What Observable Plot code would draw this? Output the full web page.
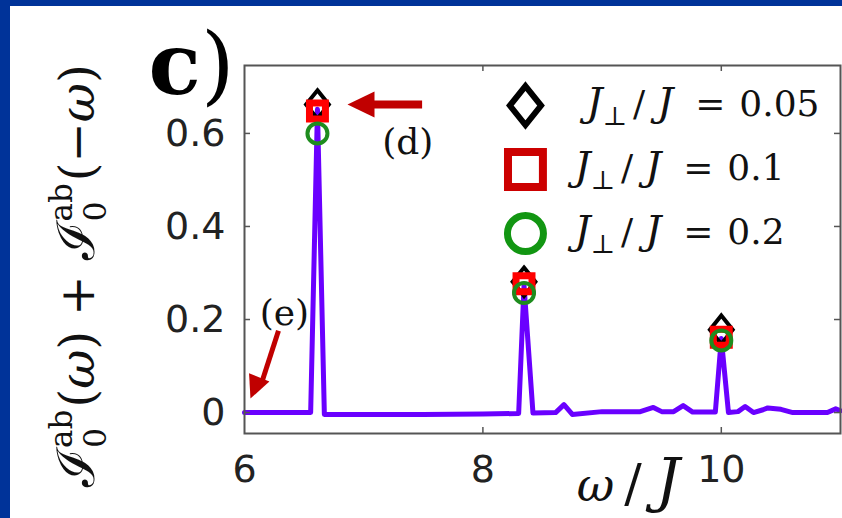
<!DOCTYPE html>
<html><head><meta charset="utf-8">
<script src="https://cdn.jsdelivr.net/npm/d3@7"></script>
<script src="https://cdn.jsdelivr.net/npm/@observablehq/plot@0.6"></script>
<style>
html,body{margin:0;padding:0;background:#fff;overflow:hidden;width:842px;height:518px;}
#bl{position:absolute;left:0;top:0;width:10px;height:518px;background:#003399;}
#bt{position:absolute;left:0;top:0;width:842px;height:6px;background:#003399;}
#wrap{position:absolute;left:10px;top:6px;width:832px;height:512px;overflow:hidden;background:#fff;}
#wrap svg{display:block;}
</style></head><body><div id="wrap"></div><div id="bl"></div><div id="bt"></div>
<script>
// ---- data ----
const xTicks = [6, 8, 10];
const xTickLabels = ["6", "8", "10"];
const yTicks = [0, 0.2, 0.4, 0.6];
const yTickLabels = ["0", "0.2", "0.4", "0.6"];
const seriesNames = ["J⊥/J = 0.05", "J⊥/J = 0.1", "J⊥/J = 0.2"];
const jValues = ["0.05", "0.1", "0.2"];
const peakOmega = [6.612, 8.345, 10.0];
const peakJ005 = [0.662, 0.281, 0.178];
const peakJ01 = [0.648, 0.277, 0.162];
const peakJ02 = [0.600, 0.257, 0.155];
const spectrumOmega = [6.0, 6.3, 6.555, 6.612, 6.67, 7.0, 7.5, 8.0, 8.30, 8.345, 8.42, 8.61, 8.68, 8.75, 9.0, 9.32, 9.43, 9.5, 9.6, 9.68, 9.76, 9.95, 10.0, 10.06, 10.14, 10.20, 10.27, 10.35, 10.39, 10.5, 10.6, 10.89, 10.96, 11.0];
const spectrumValue = [0.0, 0.0, 0.0, 0.652, -0.004, -0.004, -0.004, -0.003, -0.002, 0.273, -0.001, 0.0, 0.017, -0.004, 0.002, 0.002, 0.011, 0.002, 0.002, 0.015, 0.001, 0.001, 0.159, 0.0, 0.002, 0.013, 0.0, 0.006, 0.010, 0.007, 0.0, 0.0, 0.008, 0.004];
const yLabel = "ℐ0ab(ω) + ℐ0ab(−ω)";
const xLabel = "ω/J";
const panelLabel = "c)";

// ---- derived tables ----
const spectrum = spectrumOmega.map((w, i) => ({w, v: spectrumValue[i]}));
const pts = (vals) => peakOmega.map((w, i) => ({w, v: vals[i]}));
const legend = seriesNames.map((name, i) => ({name, i}));

const tallDiamond = {draw(ctx, size) {const r = Math.sqrt(size / Math.PI); const h = 1.5 * r, w = 1.2 * r; ctx.moveTo(0, -h); ctx.lineTo(w, 0); ctx.lineTo(0, h); ctx.lineTo(-w, 0); ctx.closePath();}};
const headD = {draw(ctx) {ctx.moveTo(0, 0); ctx.lineTo(13, 27); ctx.lineTo(-13, 27); ctx.closePath();}};
const headE = {draw(ctx) {ctx.moveTo(0, 0); ctx.lineTo(11, 23); ctx.lineTo(-11, 23); ctx.closePath();}};

const FW = 596, FH = 368;
const legendX = 8.357, legendTop = 0.660, legendStep = 0.1375;
const legendTextX = 8.718;
const legendDx = [18, 6, 6];

const plot = Plot.plot({
  width: 832, height: 512,
  marginLeft: 234, marginRight: 2, marginTop: 59, marginBottom: 85,
  x: {domain: [6, 11]},
  y: {domain: [-0.045, 0.746]},
  style: {fontFamily: "DejaVu Sans", background: "#fff", overflow: "visible", color: "#222"},
  marks: [
    Plot.line(spectrum, {x: "w", y: "v", stroke: "#6a00ff", strokeWidth: 5, strokeLinejoin: "round"}),
    Plot.dot(pts(peakJ005), {x: "w", y: "v", symbol: tallDiamond, r: 9.5, stroke: "#000", strokeWidth: 4, fill: "none"}),
    Plot.dot(pts(peakJ01), {x: "w", y: "v", symbol: "square", r: 9, stroke: "#ff0000", strokeWidth: 7, fill: "none"}),
    Plot.dot(pts(peakJ02), {x: "w", y: "v", symbol: "circle", r: 10, stroke: "#1e8c1e", strokeWidth: 4, fill: "none"}),
    Plot.frame({stroke: "#555", strokeWidth: 2}),
    Plot.tickX(xTicks.filter(d => d > 6 && d < 11), {x: d => d, insetTop: FH - 6, stroke: "#555", strokeWidth: 1.5}),
    Plot.tickX(xTicks.filter(d => d > 6 && d < 11), {x: d => d, insetBottom: FH - 6, stroke: "#555", strokeWidth: 1.5}),
    Plot.tickY(yTicks, {y: d => d, insetRight: FW - 6, stroke: "#555", strokeWidth: 1.5}),
    Plot.tickY(yTicks, {y: d => d, insetLeft: FW - 6, stroke: "#555", strokeWidth: 1.5}),
    Plot.axisX(xTicks, {anchor: "bottom", tickSize: 0, tickPadding: 22, fontSize: 38, fontFamily: "DejaVu Sans", fill: "#222", label: null, tickFormat: (d) => xTickLabels[xTicks.indexOf(d)]}),
    Plot.axisY(yTicks, {anchor: "left", tickSize: 0, tickPadding: 19, fontSize: 38, fontFamily: "DejaVu Sans", fill: "#222", label: null, tickFormat: (d) => yTickLabels[yTicks.indexOf(d)]}),
    // legend
    Plot.dot([legend[0]], {x: () => legendX, y: () => legendTop, symbol: tallDiamond, r: 13, stroke: "#000", strokeWidth: 6, fill: "none"}),
    Plot.dot([legend[1]], {x: () => legendX, y: () => legendTop - legendStep, symbol: "square", r: 19.7, stroke: "#cc0000", strokeWidth: 8, fill: "none"}),
    Plot.dot([legend[2]], {x: () => legendX, y: () => legendTop - 2 * legendStep, symbol: "circle", r: 18, stroke: "#129612", strokeWidth: 7, fill: "none"}),
    ...legend.map((d) => Plot.text([d], {x: () => legendTextX, y: () => legendTop - d.i * legendStep - 0.022, text: "name", textAnchor: "start", lineAnchor: "bottom", dx: legendDx[d.i], fontSize: 36, fontFamily: "DejaVu Serif", fill: "#111"})),
    // annotations
    Plot.link([0], {x1: 7.49, y1: 0.662, x2: 7.06, y2: 0.662, stroke: "#c00000", strokeWidth: 8}),
    Plot.dot([0], {x: 6.864, y: 0.662, symbol: headD, r: 5, fill: "#c00000", rotate: -90}),
    Plot.text(["(d)"], {x: 7.37, y: 0.58, text: d => d, fontSize: 36, fontFamily: "DejaVu Serif", fill: "#111"}),
    Plot.link([0], {x1: 6.285, y1: 0.176, x2: 6.15, y2: 0.069, stroke: "#c00000", strokeWidth: 5}),
    Plot.dot([0], {x: 6.05, y: 0.030, symbol: headE, r: 5, fill: "#c00000", rotate: 202.4}),
    Plot.text(["(e)"], {x: 6.335, y: 0.213, text: d => d, fontSize: 36, fontFamily: "DejaVu Serif", fill: "#111"}),
    // axis titles & panel label
    Plot.text([xLabel], {x: () => 9.22, frameAnchor: "bottom", dy: 67, text: d => d, lineAnchor: "bottom", fontSize: 52, fontFamily: "DejaVu Serif", fill: "#111"}),
    Plot.text([yLabel], {frameAnchor: "left", dx: -151, dy: 26, rotate: -90, text: d => d, textAnchor: "middle", lineAnchor: "bottom", fontSize: 48, fontFamily: "DejaVu Serif", fill: "#111"}),
    Plot.text([panelLabel], {frameAnchor: "top-left", dx: -96, dy: 28, text: d => d, textAnchor: "start", lineAnchor: "bottom", fontSize: 86, fontFamily: "DejaVu Serif", fill: "#000"})
  ]
});
document.getElementById("wrap").appendChild(plot);

// ---- math-style typesetting of labels ----
function setParts(el, parts) {
  const t = d3.select(el);
  t.text(null);
  for (const p of parts) {
    const s = t.append("tspan").text(p.t);
    if (p.i) s.attr("font-style", "italic");
    if (p.b) s.attr("font-weight", "bold");
    if (p.fs) s.attr("font-size", p.fs);
    if (p.ff) s.attr("font-family", p.ff);
    if (p.dx) s.attr("dx", p.dx);
    if (p.dy) s.attr("dy", p.dy);
  }
}
d3.select(plot).selectAll("text").each(function () {
  const s = this.textContent;
  const li = seriesNames.indexOf(s);
  if (li >= 0) {
    setParts(this, [{t: "J", i: 1, fs: 40}, {t: "⊥", fs: 26, dy: 9}, {t: "/", dy: -9, dx: 6}, {t: "J", i: 1, fs: 40, dx: 12}, {t: "=", dx: 22}, {t: jValues[li], dx: 14}]);
  } else if (s === yLabel) {
    setParts(this, [{t: "ℐ", fs: 52}, {t: "0", fs: 31, dy: 12}, {t: "ab", fs: 31, dx: -20, dy: -34}, {t: "(", dy: 22, dx: 2}, {t: "ω", i: 1}, {t: ") + "}, {t: "ℐ", fs: 52}, {t: "0", fs: 31, dy: 12}, {t: "ab", fs: 31, dx: -20, dy: -34}, {t: "(−", dy: 22, dx: 2}, {t: "ω", i: 1}, {t: ")"}]);
  } else if (s === xLabel) {
    setParts(this, [{t: "ω", i: 1, fs: 46}, {t: "/", dx: 10}, {t: "J", i: 1, fs: 60, dx: 14}]);
  } else if (s === panelLabel) {
    setParts(this, [{t: "c", b: 1}, {t: ")"}]);
  }
});
</script>
</body></html>
